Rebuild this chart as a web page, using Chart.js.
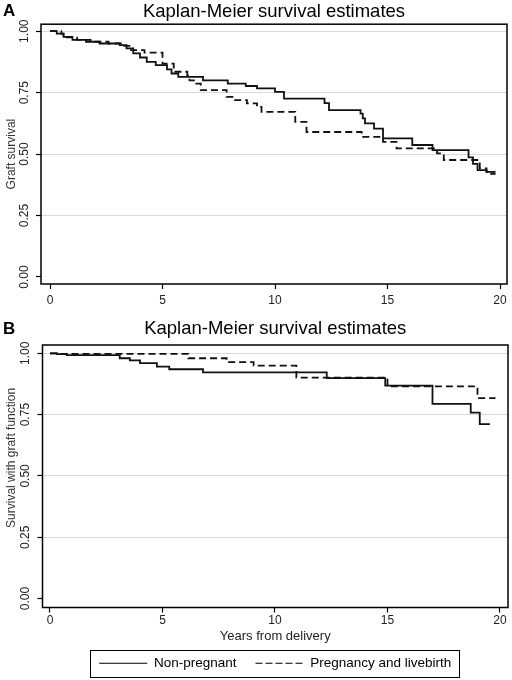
<!DOCTYPE html>
<html>
<head>
<meta charset="utf-8">
<script src="https://cdn.jsdelivr.net/npm/chart.js@4.4.0/dist/chart.umd.min.js"></script>
<style>
  html, body { margin: 0; padding: 0; background: #fff; }
  body { width: 512px; height: 680px; position: relative; overflow: hidden; }
  .panel { position: absolute; left: 0; width: 512px; }
  #wrapA { top: 0; height: 310px; }
  #wrapB { top: 310px; height: 370px; }
  .tag { position: absolute; left: 3px; font: bold 17px "Liberation Sans", Arial, sans-serif; line-height: 17px; color: #000; }
</style>
</head>
<body>
<div class="panel" id="wrapA"><canvas id="chartA" width="512" height="310"></canvas></div>
<div class="panel" id="wrapB"><canvas id="chartB" width="512" height="370"></canvas></div>
<div class="tag" style="top:2px">A</div>
<div class="tag" style="top:320px">B</div>
<script>
// Panel A: graft survival
const aNonT = [0, 0.3, 0.6, 1.0, 1.6, 2.2, 3.1, 3.4, 3.7, 4.0, 4.3, 4.7, 5.2, 5.4, 5.7, 6.8, 7.9, 8.7, 9.2, 10.0, 10.4, 12.2, 12.4, 13.8, 13.9, 14.0, 14.4, 14.8, 16.1, 17.0, 18.6, 18.8, 19.0, 19.4, 19.8];
const aNonS = [1.0, 0.99, 0.977, 0.965, 0.957, 0.95, 0.943, 0.93, 0.91, 0.893, 0.875, 0.862, 0.845, 0.828, 0.814, 0.80, 0.787, 0.777, 0.767, 0.753, 0.726, 0.707, 0.679, 0.665, 0.645, 0.625, 0.604, 0.564, 0.537, 0.516, 0.487, 0.46, 0.435, 0.428, 0.428];
const aPregT = [0, 0.5, 0.6, 1.2, 1.8, 2.6, 3.3, 3.6, 4.2, 5.0, 5.5, 6.1, 6.2, 6.5, 6.7, 7.85, 8.15, 8.75, 9.2, 9.4, 10.9, 11.4, 13.85, 14.8, 15.4, 17.2, 17.5, 19.1, 19.4, 19.6, 19.8];
const aPregS = [1.0, 0.99, 0.975, 0.965, 0.957, 0.95, 0.94, 0.923, 0.913, 0.868, 0.835, 0.82, 0.80, 0.787, 0.76, 0.733, 0.72, 0.706, 0.692, 0.672, 0.631, 0.59, 0.57, 0.55, 0.523, 0.503, 0.476, 0.442, 0.428, 0.42, 0.42];

// Panel B: survival with graft function
const bNonT = [0, 0.3, 0.75, 3.1, 3.55, 4.0, 4.75, 5.3, 6.8, 12.3, 14.9, 17.0, 18.7, 19.1, 19.55];
const bNonS = [1.0, 0.997, 0.993, 0.98, 0.971, 0.96, 0.946, 0.935, 0.922, 0.899, 0.868, 0.794, 0.758, 0.711, 0.711];
const bPregT = [0, 0.3, 6.15, 7.85, 9.05, 10.95, 15.0, 19.0, 19.8];
const bPregS = [1.0, 0.998, 0.98, 0.964, 0.95, 0.901, 0.865, 0.817, 0.817];

const seriesNames = ["Non-pregnant", "Pregnancy and livebirth"];
const xTicks = [0, 5, 10, 15, 20];
const yTicks = [0, 0.25, 0.5, 0.75, 1];
const titleText = "Kaplan-Meier survival estimates";

const FONT = '"Liberation Sans", Arial, sans-serif';

function toXY(ts, ss) {
  return ts.map((t, i) => ({ x: t, y: ss[i] }));
}

function lineSet(label, ts, ss, dash) {
  return {
    label,
    data: toXY(ts, ss),
    borderColor: "#111",
    backgroundColor: "#111",
    borderWidth: 1.8,
    borderDash: dash,
    stepped: "before",
    pointRadius: 0,
    fill: false
  };
}

// box round the plot region
const frame = {
  id: "frame",
  afterDraw(chart) {
    const { ctx, chartArea: a } = chart;
    ctx.save();
    ctx.strokeStyle = "#000";
    ctx.lineWidth = 1.5;
    ctx.strokeRect(a.left, a.top, a.right - a.left, a.bottom - a.top);
    ctx.restore();
  }
};

// box round the legend entries
const legendBox = {
  id: "legendBox",
  afterDraw(chart) {
    const lg = chart.legend;
    if (!lg || !lg.options.display || !lg.legendHitBoxes.length) return;
    const hb = lg.legendHitBoxes;
    const first = hb[0], last = hb[hb.length - 1];
    const left = Math.round(first.left - 9) + 0.5;
    const top = Math.round(first.top - 7) + 0.5;
    const right = Math.round(last.left + last.width + 8) + 0.5;
    const bottom = Math.round(first.top + first.height + 7) + 0.5;
    const ctx = chart.ctx;
    ctx.save();
    ctx.strokeStyle = "#000";
    ctx.lineWidth = 1;
    ctx.strokeRect(left, top, right - left, bottom - top);
    ctx.restore();
  }
};

function makeChart(id, cfg) {
  return new Chart(document.getElementById(id), {
    type: "line",
    data: { datasets: cfg.datasets },
    options: {
      responsive: false,
      animation: false,
      events: [],
      layout: { padding: { left: 0, right: cfg.padRight, top: 0, bottom: 0 } },
      scales: {
        x: {
          type: "linear",
          min: cfg.xMin,
          max: cfg.xMax,
          afterBuildTicks: s => { s.ticks = xTicks.map(v => ({ value: v })); },
          afterFit: s => { s.height = cfg.xHeight; },
          border: { display: false },
          grid: { drawOnChartArea: false, drawTicks: true, tickLength: 5, tickColor: "#000", tickWidth: 1.2 },
          ticks: { padding: cfg.xTickPad, color: "#222", font: { family: FONT, size: 12 }, maxRotation: 0 },
          title: cfg.xTitle ? {
            display: true, text: cfg.xTitle, color: "#222",
            font: { family: FONT, size: 13, lineHeight: 1 },
            padding: { top: 0, bottom: -5 }
          } : { display: false }
        },
        y: {
          type: "linear",
          min: cfg.yMin,
          max: cfg.yMax,
          afterBuildTicks: s => { s.ticks = yTicks.map(v => ({ value: v })); },
          afterFit: s => { s.width = cfg.yWidth; },
          border: { display: false },
          grid: {
            color: c => (c.tick && c.tick.value === 0 ? "rgba(0,0,0,0)" : "#dadada"),
            lineWidth: 1,
            drawTicks: true,
            tickLength: 5,
            tickColor: "#000",
            tickWidth: 1.2
          },
          ticks: {
            padding: 0,
            minRotation: 90,
            maxRotation: 90,
            crossAlign: "center",
            color: "#222",
            font: { family: FONT, size: 12 },
            callback: v => Number(v).toFixed(2)
          },
          title: {
            display: true, text: cfg.yTitle, color: "#333",
            font: { family: FONT, size: 12, lineHeight: 1.2 },
            padding: { top: 4.5, bottom: 0 }
          }
        }
      },
      plugins: {
        title: {
          display: true,
          text: titleText,
          fullSize: false,
          color: "#000",
          font: { family: FONT, size: 18.5, weight: "normal", lineHeight: 1.2 },
          padding: cfg.titlePad
        },
        legend: cfg.legend ? {
          display: true,
          position: "bottom",
          fullSize: false,
          labels: {
            usePointStyle: true,
            pointStyle: "line",
            pointStyleWidth: 48,
            boxHeight: 13,
            padding: 19,
            color: "#000",
            font: { family: FONT, size: 13.5 },
            generateLabels(chart) {
              const items = Chart.defaults.plugins.legend.labels.generateLabels(chart);
              items.forEach(it => {
                const ds = chart.data.datasets[it.datasetIndex];
                it.lineDash = ds.borderDash && ds.borderDash.length ? [7, 3] : [];
                it.lineWidth = 1.2;
                it.strokeStyle = "#000";
              });
              return items;
            }
          }
        } : { display: false },
        tooltip: { enabled: false }
      }
    },
    plugins: [frame, legendBox]
  });
}

makeChart("chartA", {
  datasets: [
    lineSet(seriesNames[0], aNonT, aNonS, []),
    lineSet(seriesNames[1], aPregT, aPregS, [7, 4])
  ],
  xMin: -0.4, xMax: 20.31,
  yMin: -0.0285, yMax: 1.0285,
  yWidth: 41, xHeight: 26, padRight: 5,
  xTickPad: 4.5,
  titlePad: { top: 1, bottom: 1 },
  yTitle: "Graft survival",
  legend: false
});

// the label in panel B sits a little above the middle of its axis
const padLead = "\u00a0".repeat(11);

makeChart("chartB", {
  datasets: [
    lineSet(seriesNames[0], bNonT, bNonS, []),
    lineSet(seriesNames[1], bPregT, bPregS, [7, 4])
  ],
  xMin: -0.333, xMax: 20.356,
  yMin: -0.0367, yMax: 1.034,
  yWidth: 42.5, xHeight: 30, padRight: 4,
  xTickPad: 1,
  titlePad: { top: 8, bottom: 4.8 },
  yTitle: padLead + "Survival with graft function",
  xTitle: "Years from delivery",
  legend: true
});
</script>
</body>
</html>
